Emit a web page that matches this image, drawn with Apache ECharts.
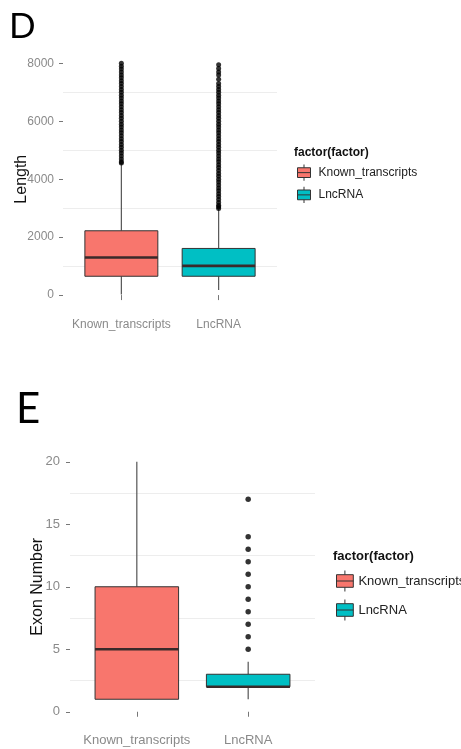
<!DOCTYPE html>
<html>
<head>
<meta charset="utf-8">
<script src="https://cdn.jsdelivr.net/npm/echarts@6/dist/echarts.min.js"></script>
<style>
html,body{margin:0;padding:0;background:#fff;}
#chart{width:461px;height:749px;}
</style>
</head>
<body>
<div id="chart"></div>
<script>
// ---------- data ----------
const categories = ['Known_transcripts', 'LncRNA'];
const groupColors = ['#F8766D', '#00BFC4'];

// Panel D: transcript length  [min, Q1, median, Q3, max]
const lengthStats = [
  [20, 650, 1300, 2220, 4540],
  [180, 650, 1010, 1610, 2960]
];
const lengthOutKnown = [4560, 4600, 4700, 4800, 4900, 5000, 5100, 5200, 5300, 5400, 5500, 5600, 5700, 5800,
  5900, 6000, 6100, 6200, 6300, 6400, 6500, 6600, 6700, 6800, 6900, 7000, 7100, 7200, 7300, 7400,
  7500, 7600, 7700, 7800, 7900, 8000];
const lengthOutLnc = [2990, 3050, 3100, 3200, 3300, 3400, 3500, 3600, 3700, 3800, 3900, 4000, 4100, 4200,
  4300, 4400, 4500, 4600, 4700, 4800, 4900, 5000, 5100, 5200, 5300, 5400, 5500, 5600, 5700, 5800,
  5900, 6000, 6100, 6200, 6300, 6400, 6500, 6600, 6700, 6800, 6900, 7000, 7100, 7200, 7300, 7450,
  7600, 7700, 7820, 7950];
const lengthTicks = [0, 2000, 4000, 6000, 8000];
const lengthGridLines = [1000, 3000, 5000, 7000];

// Panel E: exon number  [min, Q1, median, Q3, max]
const exonStats = [
  [1, 1, 5, 10, 20],
  [1, 2, 2, 3, 4]
];
const exonOutKnown = [];
const exonOutLnc = [5, 6, 7, 8, 9, 10, 11, 12, 13, 14, 17];
const exonTicks = [0, 5, 10, 15, 20];
const exonGridLines = [2.5, 7.5, 12.5, 17.5];

// ---------- chart ----------
const FONT = '"Liberation Sans", Arial, sans-serif';
const chart = echarts.init(document.getElementById('chart'), null, {renderer: 'canvas'});

function boxRenderer(color) {
  return function (params, api) {
    const x = api.value(0);
    const lo = api.coord([x, api.value(1)]);
    const q1 = api.coord([x, api.value(2)]);
    const med = api.coord([x, api.value(3)]);
    const q3 = api.coord([x, api.value(4)]);
    const hi = api.coord([x, api.value(5)]);
    const hw = api.size([0.75, 0])[0] / 2;
    return {
      type: 'group',
      children: [
        {type: 'line', shape: {x1: lo[0], y1: lo[1], x2: q1[0], y2: q1[1]}, style: {stroke: '#555', lineWidth: 1.2}},
        {type: 'line', shape: {x1: q3[0], y1: q3[1], x2: hi[0], y2: hi[1]}, style: {stroke: '#555', lineWidth: 1.2}},
        {type: 'rect', shape: {x: q3[0] - hw, y: q3[1], width: 2 * hw, height: q1[1] - q3[1]},
          style: {fill: color, stroke: '#333', lineWidth: 1}},
        {type: 'line', shape: {x1: med[0] - hw, y1: med[1], x2: med[0] + hw, y2: med[1]},
          style: {stroke: '#3a2a2a', lineWidth: 2.6}}
      ]
    };
  };
}

const iconPath = 'path://M8,0 L8,4 M0,4 L16,4 L16,16 L0,16 Z M0,10 L16,10 M8,16 L8,20';

function legendData() {
  return categories.map((c, i) => ({
    name: c,
    icon: iconPath,
    itemStyle: {color: groupColors[i], borderColor: '#333', borderWidth: 1}
  }));
}

const panels = [
  {stats: lengthStats, outs: [lengthOutKnown, lengthOutLnc], ticks: lengthTicks, gridLines: lengthGridLines,
    grid: {left: 63, top: 49.4, width: 214, height: 259.6}, min: -480, max: 8480, name: 'Length',
    nameGap: 33, tickFont: 12, labelMargin: 9, xFont: 12, xMargin: 10, sym: 5},
  {stats: exonStats, outs: [exonOutKnown, exonOutLnc], ticks: exonTicks, gridLines: exonGridLines,
    grid: {left: 70, top: 450.5, width: 245, height: 272.5}, min: -0.9, max: 20.9, name: 'Exon Number',
    nameGap: 24, tickFont: 13, labelMargin: 10, xFont: 13, xMargin: 11, sym: 5.5}
];

const grids = [], xAxes = [], yAxes = [], series = [];
panels.forEach((p, pi) => {
  grids.push(Object.assign({containLabel: false}, p.grid));
  xAxes.push({
    type: 'value', gridIndex: pi, min: 0.4, max: 2.6,
    axisLine: {show: false},
    axisTick: {show: true, length: 5, customValues: [1, 2], lineStyle: {color: '#777', width: 1}},
    axisLabel: {customValues: [1, 2], margin: p.xMargin, color: '#8a8a8a', fontSize: p.xFont, fontFamily: FONT,
      formatter: v => categories[Math.round(v) - 1] || ''},
    splitLine: {show: false}
  });
  yAxes.push({
    type: 'value', gridIndex: pi, min: p.min, max: p.max,
    name: p.name, nameLocation: 'middle', nameGap: p.nameGap, nameMoveOverlap: false,
    nameTextStyle: {fontSize: 16, color: '#111', fontFamily: FONT},
    axisLine: {show: false},
    axisTick: {show: true, length: 4, customValues: p.ticks, lineStyle: {color: '#777', width: 1}},
    axisLabel: {customValues: p.ticks, margin: p.labelMargin, color: '#8a8a8a', fontSize: p.tickFont, fontFamily: FONT,
      formatter: v => String(v)},
    splitLine: {show: false}
  });
  // gridlines
  series.push({
    type: 'line', xAxisIndex: pi, yAxisIndex: pi, data: [], silent: true, z: 0,
    markLine: {silent: true, z: 0, symbol: ['none', 'none'], label: {show: false},
      lineStyle: {color: '#ededed', width: 1, type: 'solid'},
      data: p.gridLines.map(v => ({yAxis: v}))}
  });
  categories.forEach((c, i) => {
    series.push({
      type: 'custom', name: c, xAxisIndex: pi, yAxisIndex: pi, z: 6,
      itemStyle: {color: groupColors[i]},
      renderItem: boxRenderer(groupColors[i]),
      encode: {x: 0, y: [1, 2, 3, 4, 5]},
      data: [[i + 1].concat(p.stats[i])]
    });
    series.push({
      type: 'scatter', name: 'outliers', xAxisIndex: pi, yAxisIndex: pi, z: 7,
      symbol: 'circle', symbolSize: p.sym, itemStyle: {color: '#000'}, silent: true,
      data: p.outs[i].map(v => [i + 1, v])
    });
  });
});

chart.setOption({
  backgroundColor: '#fff',
  animation: false,
  title: [
    {text: 'D', left: 9, top: 9, padding: 0, textStyle: {fontFamily: 'Lato, "Noto Sans", sans-serif', fontSize: 35, fontWeight: 'normal', color: '#000'}},
    {text: 'E', left: 16, top: 388, padding: 0, textStyle: {fontFamily: 'Lato, "Noto Sans", sans-serif', fontSize: 42, fontWeight: 'normal', color: '#000'}},
    {text: 'factor(factor)', left: 294, top: 147, padding: 0, textStyle: {fontFamily: FONT, fontSize: 12, fontWeight: 'bold', color: '#111'}},
    {text: 'factor(factor)', left: 333, top: 550, padding: 0, textStyle: {fontFamily: FONT, fontSize: 13, fontWeight: 'bold', color: '#111'}}
  ],
  legend: [
    {orient: 'vertical', left: 297, top: 164, padding: 0, itemWidth: 13, itemHeight: 20, itemGap: 5,
      selectedMode: false, data: legendData(),
      textStyle: {fontFamily: FONT, fontSize: 12, color: '#222', padding: [0, 0, 0, 3]}},
    {orient: 'vertical', left: 336, top: 570, padding: 0, itemWidth: 17, itemHeight: 21, itemGap: 7,
      selectedMode: false, data: legendData(),
      textStyle: {fontFamily: FONT, fontSize: 13, color: '#222', padding: [0, 0, 0, 0]}}
  ],
  grid: grids,
  xAxis: xAxes,
  yAxis: yAxes,
  series: series
});
</script>
</body>
</html>
